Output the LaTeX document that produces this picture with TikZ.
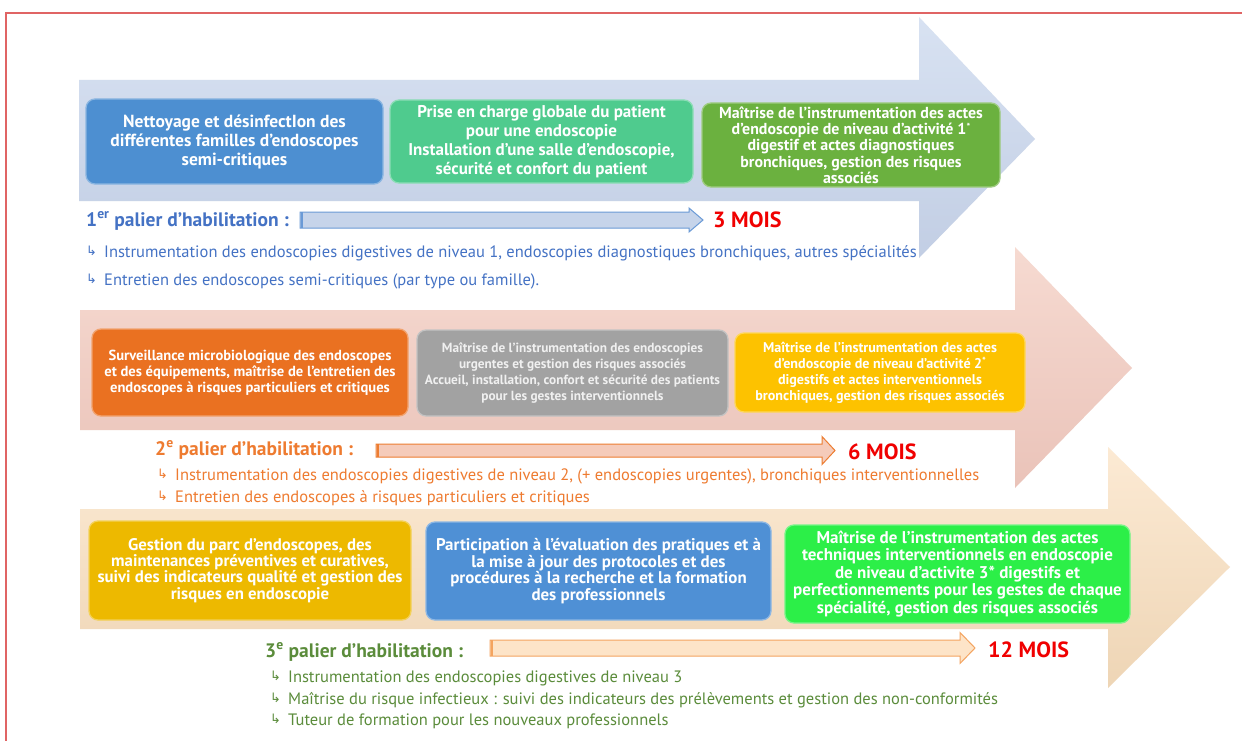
\documentclass[tikz,border=0pt]{standalone}
\usepackage{fontspec}
\setmainfont{PT Sans}
\newfontfamily\dejavu{DejaVu Sans}
\definecolor{aAt}{HTML}{D8E2F2}
\definecolor{aAb}{HTML}{C2CEE4}
\definecolor{aBt}{HTML}{F6DAD1}
\definecolor{aBb}{HTML}{EAC3B9}
\definecolor{aCt}{HTML}{FCEAD4}
\definecolor{aCb}{HTML}{EED5B5}
\definecolor{cbox1}{HTML}{4D8FD1}
\definecolor{cbox2}{HTML}{4FCB8E}
\definecolor{cbox3}{HTML}{6BB13F}
\definecolor{cbox4}{HTML}{EA7121}
\definecolor{cbox5}{HTML}{A2A2A2}
\definecolor{cbox6}{HTML}{FDC200}
\definecolor{cbox7}{HTML}{EDB900}
\definecolor{cbox8}{HTML}{4F90D5}
\definecolor{cbox9}{HTML}{2CEF48}
\definecolor{tblue}{HTML}{4472C4}
\definecolor{torange}{HTML}{EE7B30}
\definecolor{tgreen}{HTML}{5B8C3B}
\definecolor{tred}{HTML}{F00000}
\definecolor{hAfill}{HTML}{C6D4EA}
\definecolor{hAdraw}{HTML}{6A9AD6}
\definecolor{hBfill}{HTML}{F5CBBA}
\definecolor{hBdraw}{HTML}{ED7D31}
\definecolor{hCfill}{HTML}{FDE4C8}
\definecolor{hCdraw}{HTML}{F4A460}
\definecolor{frame}{HTML}{E06464}
\newcommand{\bul}{\raisebox{1.5pt}{\dejavu\fontsize{13}{13}\selectfont ↳}}
\newcommand{\supstar}{\smash{\raisebox{3.5pt}{\fontsize{10}{10}\selectfont *}}}
\begin{document}
\begin{tikzpicture}[x=1pt,y=-1pt,
  box/.style={rounded corners=9pt, fill=#1, draw=#1!65!white, line width=1.3pt,
    text=white, align=center, inner sep=0pt, font=\bfseries},
  lab/.style={anchor=west, inner sep=0pt, font=\fontsize{19.5}{22}\selectfont\bfseries},
  mois/.style={anchor=west, inner sep=0pt, text=tred, font=\fontsize{22}{24}\selectfont\bfseries},
  bline/.style={anchor=west, inner sep=0pt, font=\fontsize{16.5}{18}\selectfont},
  hollow/.style={line width=1pt, line join=miter}
]
\useasboundingbox (0,0) rectangle (1242,741);
\fill[white] (0,0) rectangle (1242,741);
% frame
\draw[frame, line width=1.2pt] (6,760) -- (6,13) -- (1260,13);
% big arrows
\shade[top color=aAt, bottom color=aAb] (79,80) -- (919,80) -- (919,17) -- (1035,139) -- (919,258) -- (919,201) -- (79,201) -- cycle;
\shade[top color=aBt, bottom color=aBb] (80,310) -- (1015,310) -- (1015,247) -- (1132,368) -- (1015,488) -- (1015,430) -- (80,430) -- cycle;
\shade[top color=aCt, bottom color=aCb] (80,509) -- (1108,509) -- (1108,447) -- (1230,567) -- (1108,688) -- (1108,629) -- (80,629) -- cycle;

% row 1 boxes
\node[box=cbox1, minimum width=297pt, minimum height=85pt, font=\fontsize{17.5}{19}\selectfont\bfseries] (b1) at (234.5,141.5)
  {Nettoyage et désinfectIon des\\différentes familles d'endoscopes\\semi-critiques};
\node[box=cbox2, minimum width=303pt, minimum height=83pt, font=\fontsize{17}{19}\selectfont\bfseries] (b2) at (541.5,141.5)
  {Prise en charge globale du patient\\pour une endoscopie\\Installation d’une salle d’endoscopie,\\sécurité et confort du patient};
\node[box=cbox3, minimum width=298pt, minimum height=84pt, font=\fontsize{15.9}{16.3}\selectfont\bfseries] (b3) at (851,145)
  {Maîtrise de l'instrumentation des actes\\d'endoscopie de niveau d'activité 1\supstar\\digestif et actes diagnostiques\\bronchiques, gestion des risques\\associés};

% row 1 label
\node[lab, text=tblue] (l1) at (86,221) {1\textsuperscript{er} palier d’habilitation :};
\draw[hollow, draw=hAdraw, fill=hAfill] (300,212) -- (689,212) -- (689,208) -- (703,220) -- (689,232) -- (689,228) -- (300,228) -- cycle;
\draw[hAdraw, line width=2pt] (301.5,212) -- (301.5,228);
\node[mois] (m1) at (713,220) {3 MOIS};
\node[bline, text=tblue] (t11) at (86,253) {\makebox[18pt][l]{\bul}Instrumentation des endoscopies digestives de niveau 1, endoscopies diagnostiques bronchiques, autres spécialités};
\node[bline, text=tblue] (t12) at (86,281) {\makebox[18pt][l]{\bul}Entretien des endoscopes semi-critiques (par type ou famille).};

% row 2 boxes
\node[box=cbox4, minimum width=316pt, minimum height=87pt, font=\fontsize{14.6}{16}\selectfont\bfseries] (b4) at (250,372.5)
  {Surveillance microbiologique des endoscopes\\et des équipements, maîtrise de l'entretien des\\endoscopes à risques particuliers et critiques};
\node[box=cbox5, minimum width=311pt, minimum height=86pt, text=white!94!black, font=\fontsize{13.3}{16}\selectfont\bfseries] (b5) at (572.5,373)
  {Maîtrise de l’instrumentation des endoscopies\\urgentes et gestion des risques associés\\Accueil, installation, confort et sécurité des patients\\pour les gestes interventionnels};
\node[box=cbox6, minimum width=290pt, minimum height=79pt, font=\fontsize{14.1}{16}\selectfont\bfseries] (b6) at (880,372.5)
  {Maîtrise de l'instrumentation des actes\\d'endoscopie de niveau d'activité 2\supstar\\digestifs et actes interventionnels\\bronchiques, gestion des risques associés};

% row 2 label
\node[lab, text=torange] (l2) at (155,450) {2\textsuperscript{e} palier d’habilitation :};
\draw[hollow, draw=hBdraw, fill=hBfill] (376,444) -- (822,444) -- (822,436.5) -- (835,450.5) -- (822,464.5) -- (822,457) -- (376,457) -- cycle;
\draw[hBdraw, line width=2pt] (377.5,444) -- (377.5,457);
\node[mois] (m2) at (848,452) {6 MOIS};
\node[bline, text=torange] (t21) at (157,476) {\makebox[18pt][l]{\bul}Instrumentation des endoscopies digestives de niveau 2, (+ endoscopies urgentes), bronchiques interventionnelles};
\node[bline, text=torange] (t22) at (157,498) {\makebox[18pt][l]{\bul}Entretien des endoscopes à risques particuliers et critiques};

% row 3 boxes
\node[box=cbox7, minimum width=322pt, minimum height=99pt, font=\fontsize{16.8}{16.3}\selectfont\bfseries] (b7) at (250,570.5)
  {Gestion du parc d’endoscopes, des\\maintenances préventives et curatives,\\suivi des indicateurs qualité et gestion des\\risques en endoscopie};
\node[box=cbox8, minimum width=345pt, minimum height=98pt, font=\fontsize{16.9}{16.7}\selectfont\bfseries] (b8) at (598.5,571)
  {Participation à l'évaluation des pratiques et à\\la mise à jour des protocoles et des\\procédures à la recherche et la formation\\des professionnels};
\node[box=cbox9, minimum width=345pt, minimum height=98pt, font=\fontsize{17}{17.5}\selectfont\bfseries] (b9) at (957.5,574)
  {Maîtrise de l'instrumentation des actes\\techniques interventionnels en endoscopie\\de niveau d'activite 3* digestifs et\\perfectionnements pour les gestes de chaque\\spécialité, gestion des risques associés};

% row 3 label
\node[lab, text=tgreen] (l3) at (265,652) {3\textsuperscript{e} palier d’habilitation :};
\draw[hollow, draw=hCdraw, fill=hCfill] (490,640) -- (960,640) -- (960,632.5) -- (975,648) -- (960,663.5) -- (960,656) -- (490,656) -- cycle;
\draw[hCdraw, line width=2pt] (491.5,640) -- (491.5,656);
\node[mois] (m3) at (988,650) {12 MOIS};
\node[bline, text=tgreen] (t31) at (270,678) {\makebox[18pt][l]{\bul}Instrumentation des endoscopies digestives de niveau 3};
\node[bline, text=tgreen] (t32) at (270,700) {\makebox[18pt][l]{\bul}Maîtrise du risque infectieux : suivi des indicateurs des prélèvements et gestion des non-conformités};
\node[bline, text=tgreen] (t33) at (270,721) {\makebox[18pt][l]{\bul}Tuteur de formation pour les nouveaux professionnels};
\end{tikzpicture}
\end{document}
